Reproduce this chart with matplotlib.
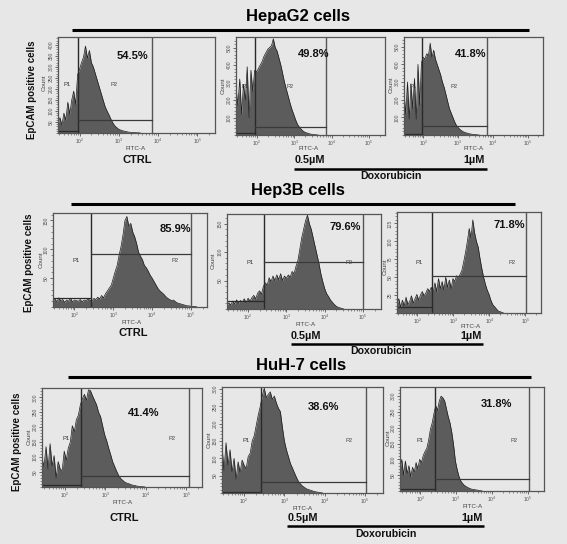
import numpy as np
import matplotlib
matplotlib.use("Agg")
import matplotlib.pyplot as plt

plt.rcParams['font.family'] = ['Liberation Sans', 'DejaVu Sans']

BG = '#e7e7e7'
W, H = 567, 544

# histogram bins start at the left edge of each panel, one value every 0.05 decades
hepg2_ctrl = [40, 70, 35, 90, 60, 140, 85, 150, 190, 130, 265, 290, 320, 345, 395, 340, 375, 320, 300, 270,
              240, 210, 180, 150, 120, 100, 82, 62, 45, 32, 24, 17, 13, 10, 8, 6, 4, 3, 2, 2, 1, 1, 0]
hepg2_05 = [270, 170, 320, 120, 290, 200, 390, 100, 370, 250, 370, 360, 380, 400, 420, 450, 470, 490, 500, 510,
            550, 500, 480, 440, 400, 350, 300, 260, 220, 180, 145, 115, 85, 60, 45, 32, 22, 15, 12, 8, 5, 3, 2, 1, 0]
hepg2_1 = [240, 120, 300, 90, 290, 150, 320, 90, 400, 170, 410, 440, 430, 460, 450, 520, 440, 480, 430, 400,
           370, 340, 300, 270, 230, 190, 150, 125, 100, 75, 55, 42, 32, 24, 18, 14, 11, 8, 6, 4, 3, 2, 1, 0]

hep3b_ctrl = [10, 14, 9, 16, 11, 13, 8, 12, 10, 15, 9, 12, 11, 10, 13, 9, 12, 11, 14, 12,
              10, 15, 13, 17, 14, 20, 16, 23, 28, 33, 38, 50, 62, 72, 90, 105, 125, 150, 157, 140,
              145, 130, 122, 110, 95, 88, 82, 72, 68, 62, 55, 50, 44, 38, 32, 28, 25, 22, 18, 15,
              13, 11, 12, 9, 7, 6, 5, 4, 3, 2, 2, 1, 1, 1, 0]
hep3b_05 = [6, 11, 7, 14, 9, 16, 10, 15, 12, 18, 11, 19, 14, 20, 24, 18, 28, 32, 26, 40,
            46, 42, 55, 48, 58, 50, 60, 52, 62, 50, 58, 54, 60, 56, 66, 62, 75, 85, 105, 125, 140,
            155, 165, 150, 140, 125, 110, 95, 80, 62, 48, 36, 27, 22, 16, 12, 8, 5, 3, 2, 1, 0]
hep3b_1 = [12, 20, 8, 18, 10, 22, 12, 16, 24, 14, 20, 26, 18, 25, 30, 24, 28, 34, 30, 36,
           28, 42, 30, 48, 34, 44, 32, 50, 36, 46, 34, 48, 44, 52, 50, 54, 60, 72, 85, 100, 118, 105,
           130, 112, 100, 92, 76, 62, 50, 40, 32, 26, 18, 12, 9, 6, 3, 2, 1, 0]

huh7_ctrl = [95, 70, 135, 60, 145, 70, 105, 30, 85, 60, 55, 120, 90, 130, 150, 205, 185, 225, 240, 275,
             295, 310, 290, 325, 322, 305, 290, 275, 250, 235, 205, 175, 155, 130, 108, 84, 68, 52, 38, 28,
             22, 16, 13, 11, 8, 6, 5, 3, 2, 1, 1, 0]
huh7_05 = [135, 65, 145, 80, 125, 60, 100, 40, 90, 60, 95, 80, 70, 105, 115, 150, 165, 195, 225, 250,
           280, 303, 275, 285, 292, 270, 280, 260, 245, 235, 190, 150, 125, 105, 85, 72, 58, 45, 33, 26,
           20, 16, 12, 10, 8, 6, 4, 3, 2, 1, 0]
huh7_1 = [70, 100, 50, 95, 55, 80, 45, 75, 60, 90, 70, 100, 90, 112, 125, 135, 160, 195, 215, 245,
          270, 255, 285, 300, 295, 285, 260, 235, 215, 185, 145, 95, 68, 46, 32, 24, 18, 14, 11,
          8, 6, 5, 4, 3, 2, 1, 0]

percent_labels = ['54.5%', '49.8%', '41.8%', '85.9%', '79.6%', '71.8%', '41.4%', '38.6%', '31.8%']
row_titles = ['HepaG2 cells', 'Hep3B cells', 'HuH-7 cells']

# left, right, top, bottom in pixels, xlim in decades, ymax, y ticks
panels = [
    (58, 215, 37, 133, 1.45, 5.45, 436, [50, 100, 150, 200, 250, 300, 350, 400], hepg2_ctrl),
    (236, 385, 37, 135, 1.44, 5.43, 560, [100, 200, 300, 400, 500], hepg2_05),
    (404, 543, 37, 135, 1.45, 5.43, 555, [100, 200, 300, 400, 500], hepg2_1),
    (53, 207, 213, 307, 1.45, 5.41, 163, [50, 100, 150], hep3b_ctrl),
    (227, 381, 214, 309, 1.45, 5.47, 167, [50, 100, 150], hep3b_05),
    (397, 541, 212, 313, 1.44, 5.43, 141, [25, 50, 75, 100, 125], hep3b_1),
    (42, 202, 388, 487, 1.43, 5.39, 331, [50, 100, 150, 200, 250, 300], huh7_ctrl),
    (222, 383, 387, 493, 1.45, 5.45, 306, [50, 100, 150, 200, 250, 300], huh7_05),
    (400, 544, 387, 491, 1.43, 5.46, 329, [50, 100, 150, 200, 250, 300], huh7_1),
]
# gate x1, gate x2, P2 level, P1 level
gates = [
    (1.96, 3.84, 60, 10), (1.96, 3.84, 44, 10), (1.96, 3.82, 51, 4),
    (2.42, 5.0, 92, 16), (2.42, 5.01, 82, 14), (2.42, 5.02, 52, 9),
    (2.40, 5.07, 38, 8), (2.41, 5.02, 33, 4), (2.40, 5.05, 37, 6),
]
percent_xy = [(132, 56), (314, 54), (471, 54), (175, 229), (345, 227), (509, 225), (144, 413), (323, 407), (496, 404)]
fitc_xy = [(136, 148), (309, 149), (474, 149), (132, 322), (306, 325), (471, 327), (123, 502), (303, 508), (473, 506)]
p1_xy = [(67, 85), (245, 87), (413, 87), (76, 261), (250, 262), (419, 263), (66, 438), (246, 441), (420, 440)]
p2_xy = [(114, 85), (290, 87), (454, 87), (175, 261), (349, 262), (512, 263), (172, 438), (349, 441), (514, 440)]
count_xy = [(44, 83), (223, 86), (391, 85), (41, 260), (213, 261), (385, 267), (29, 437), (209, 440), (388, 438)]

fig = plt.figure(figsize=(W / 100, H / 100), dpi=100, facecolor=BG)

for (l, r, t, b, x0, x1, ymax, yticks, counts), (g1, g2, p2_y, p1_y) in zip(panels, gates):
    ax = fig.add_axes([l / W, 1 - b / H, (r - l) / W, (b - t) / H], facecolor=BG)
    decades = x0 + 0.05 * np.arange(len(counts))
    ax.fill_between(10 ** decades, counts, 0, color='#5c5c5c', lw=0)
    ax.plot(10 ** decades, counts, color='#1c1c1c', lw=0.5)
    ax.set_xscale('log')
    ax.set_xlim(10 ** x0, 10 ** x1)
    ax.set_ylim(0, ymax)
    ax.plot([10 ** g1, 10 ** g1], [0, ymax], color='#2a2a2a', lw=1)
    ax.plot([10 ** g2, 10 ** g2], [0, ymax], color='#555555', lw=1)
    ax.plot([10 ** g1, 10 ** g2], [p2_y, p2_y], color='#3a3a3a', lw=0.9)
    ax.plot([10 ** x0, 10 ** g1], [p1_y, p1_y], color='#2a2a2a', lw=0.9)
    ax.set_xticks([1e2, 1e3, 1e4, 1e5])
    ax.set_yticks(yticks)
    ax.set_yticks(np.arange(0, ymax, yticks[0] / 5), minor=True)
    ax.tick_params(axis='both', which='major', length=2, width=0.6, labelsize=3.6, pad=0.8, colors='#555555')
    ax.tick_params(axis='both', which='minor', length=1.3, width=0.4, colors='#444444')
    plt.setp(ax.get_yticklabels(), rotation=90, va='center')
    for spine in ax.spines.values():
        spine.set_color('#555555')
        spine.set_linewidth(0.9)

# overlay in pixel coordinates for the figure annotations
ov = fig.add_axes([0, 0, 1, 1], facecolor='none')
ov.set_xlim(0, W)
ov.set_ylim(H, 0)
ov.axis('off')


def label(x, y, s, size, bold=True, rotation=0, color='#111111'):
    ov.text(x, y, s, fontsize=size, fontweight='bold' if bold else 'normal', rotation=rotation,
            ha='center', va='center', color=color)


for s, (x, y), (x0, x1, ly) in zip(row_titles, [(298, 16), (298, 190), (301, 366)],
                                   [(72, 529, 30), (71, 515, 204), (68, 531, 377)]):
    label(x, y, s, 12, color='black')
    ov.plot([x0, x1], [ly, ly], color='black', lw=2.2, solid_capstyle='butt')

for x, y in [(32, 90), (29, 263), (17, 442)]:
    label(x, y, 'EpCAM positive cells', 7, rotation=90)
for x, y in [(137, 160), (133, 333), (124, 518)]:
    label(x, y, 'CTRL', 8)
for x, y in [(310, 160), (306, 336), (303, 518)]:
    label(x, y, '0.5µM', 7.8)
for x, y in [(474, 160), (471, 336), (472, 518)]:
    label(x, y, '1µM', 7.8)
for x, y, x0, x1, ly in [(391, 176, 294, 487, 169), (381, 351, 291, 483, 344), (386, 534, 287, 484, 526)]:
    label(x, y, 'Doxorubicin', 7.6)
    ov.plot([x0, x1], [ly, ly], color='black', lw=1.8, solid_capstyle='butt')

for s, (x, y) in zip(percent_labels, percent_xy):
    label(x, y, s, 8)
for x, y in fitc_xy:
    label(x, y, 'FITC-A', 4.5, bold=False, color='#444444')
for x, y in p1_xy:
    label(x, y, 'P1', 4.2, bold=False, color='#333333')
for x, y in p2_xy:
    label(x, y, 'P2', 4.2, bold=False, color='#444444')
for x, y in count_xy:
    label(x, y, 'Count', 4.5, bold=False, rotation=90, color='#444444')

fig.savefig('out.png', dpi=100, facecolor=BG)
